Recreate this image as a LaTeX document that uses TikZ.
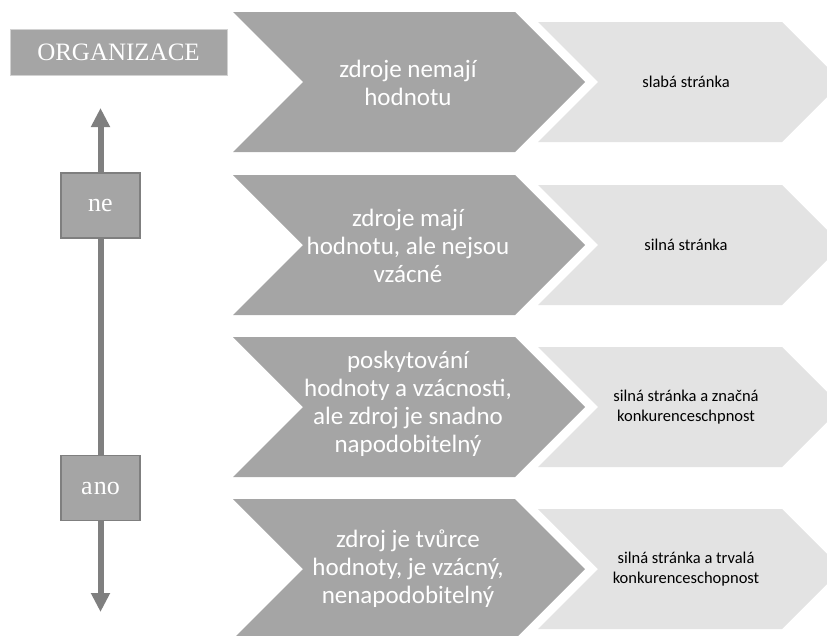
\documentclass[tikz,border=0pt]{standalone}
\usepackage{fontspec}
\setmainfont{Liberation Serif}
\newfontfamily\bodyfont{Carlito}
\usetikzlibrary{arrows.meta}
\definecolor{chevdark}{HTML}{A5A5A5}
\definecolor{chevlight}{HTML}{E3E3E3}
\definecolor{axisgray}{HTML}{7F7F7F}
\definecolor{orgedge}{HTML}{D2D2D2}

\begin{document}
\begin{tikzpicture}[x=1pt,y=-1pt,
  darktext/.style={text=white, font=\bodyfont\fontsize{25}{28}\selectfont, align=center, inner sep=0pt},
  lighttext/.style={text=black, font=\bodyfont\fontsize{16.5}{19.5}\selectfont, align=center, inner sep=0pt},
  labelbox/.style={fill=chevdark, draw=axisgray, line width=1.5pt, text=white,
    font=\fontsize{26}{30}\selectfont, minimum width=79pt, minimum height=65pt, inner sep=0pt},
  orgbox/.style={fill=chevdark, draw=orgedge, line width=1pt, text=white,
    font=\fontsize{25}{29}\selectfont, minimum width=217pt, minimum height=46pt, inner sep=0pt},
  axis/.style={draw=axisgray, line width=6pt},
  axishead/.style={-{Triangle[width=18pt,length=19pt]}}
]
\clip (0,0) rectangle (827,635);

% chevron rows: dark cause shape followed by light result shape
\foreach \c in {82,245,407,569} {
  \fill[chevdark] (233,\c-70) -- (515,\c-70) -- (585,\c) -- (515,\c+70)
    -- (233,\c+70) -- (303,\c) -- cycle;
  \fill[chevlight] (538,\c-60) -- (782,\c-60) -- (842,\c) -- (782,\c+60)
    -- (538,\c+60) -- (598,\c) -- cycle;
}

% row texts
\node[darktext] (cause1) at (408,83) {zdroje nemají\\hodnotu};
\node[darktext] (cause2) at (408,246) {zdroje mají\\hodnotu, ale nejsou\\vzácné};
\node[darktext] (cause3) at (408,404) {poskytování\\hodnoty a vzácnosti,\\ale zdroj je snadno\\napodobitelný};
\node[darktext] (cause4) at (408,569) {zdroj je tvůrce\\hodnoty, je vzácný,\\nenapodobitelný};

\node[lighttext] (result1) at (686,82) {slabá stránka};
\node[lighttext] (result2) at (686,245) {silná stránka};
\node[lighttext] (result3) at (686,407) {silná stránka a značná\\konkurenceschpnost};
\node[lighttext] (result4) at (686,569) {silná stránka a trvalá\\konkurenceschopnost};

% left axis with its labels
\node[orgbox] (org) at (118.5,52) {ORGANIZACE};
\node[labelbox] (ne) at (100.5,205.5) {ne};
\node[labelbox] (ano) at (100.5,488) {a\kern1pt no};
\coordinate (upTip) at (100.5,108);
\coordinate (downTip) at (100.5,612);

\draw[axis, axishead] (ne.north) -- (upTip);
\draw[axis] (ne.south) -- (ano.north);
\draw[axis, axishead] (ano.south) -- (downTip);
\end{tikzpicture}
\end{document}
